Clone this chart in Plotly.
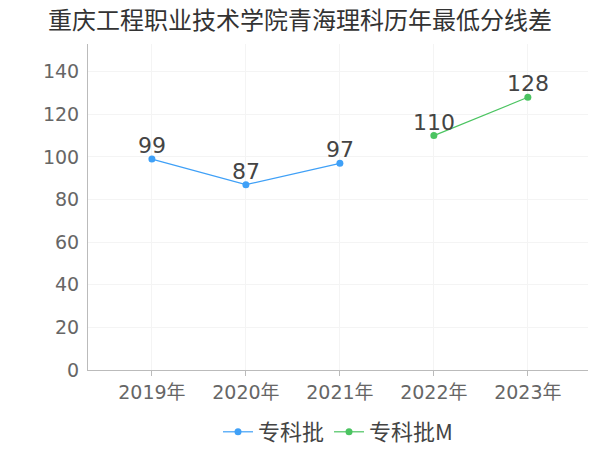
import plotly.graph_objects as go

years = ["2019年", "2020年", "2021年", "2022年", "2023年"]
batch_x = [0, 1, 2]
batch_y = [99, 87, 97]
batch_m_x = [3, 4]
batch_m_y = [110, 128]
y_ticks = [0, 20, 40, 60, 80, 100, 120, 140]

font = "DejaVu Sans, Noto Sans CJK SC"

fig = go.Figure()
fig.add_trace(go.Scatter(
    x=batch_x, y=batch_y, name="专科批", mode="lines+markers",
    line={"color": "#3fa0f7", "width": 1.2}, marker={"size": 7, "color": "#3fa0f7"},
))
fig.add_trace(go.Scatter(
    x=batch_m_x, y=batch_m_y, name="专科批M", mode="lines+markers",
    line={"color": "#4bc461", "width": 1.2}, marker={"size": 7, "color": "#4bc461"},
))

# value labels sit just above each point
for xs, ys in [(batch_x, batch_y), (batch_m_x, batch_m_y)]:
    for x, y in zip(xs, ys):
        fig.add_annotation(x=x, y=y, text=str(y), showarrow=False, yanchor="bottom",
                           yshift=-1, font={"size": 22, "color": "#444"})

fig.update_layout(
    width=600, height=450,
    margin={"l": 88, "r": 12, "t": 44, "b": 80, "autoexpand": False},
    paper_bgcolor="white", plot_bgcolor="white",
    font={"family": font, "color": "#666"},
    title={"text": "重庆工程职业技术学院青海理科历年最低分线差", "x": 0.08, "xanchor": "left",
           "y": 0.955, "yanchor": "middle", "font": {"size": 24, "color": "#333",
                                                     "family": "Noto Sans CJK SC"}},
    legend={"orientation": "h", "x": 0.5, "xanchor": "center", "y": 0.04, "yanchor": "middle",
            "yref": "container", "font": {"size": 22, "color": "#444", "family": "Noto Sans CJK SC"},
            "itemwidth": 30, "tracegroupgap": 0},
    showlegend=True,
)
fig.update_xaxes(
    range=[-0.68, 4.64], tickvals=list(range(len(years))), ticktext=years,
    tickfont={"size": 19, "color": "#666"}, showgrid=True, gridcolor="#f4f4f4",
    showline=True, linecolor="#bbb", ticks="outside", tickcolor="#bbb", ticklen=5,
    zeroline=False, automargin=False,
)
fig.update_yaxes(
    range=[0, 153], tickvals=y_ticks, tickfont={"size": 19, "color": "#666"},
    showgrid=True, gridcolor="#f4f4f4", showline=True, linecolor="#bbb",
    zeroline=False, ticks="", ticklabelstandoff=4, automargin=False,
)

# the page body has a default margin; drop it so the figure fills the window
fig.write_html("out.html", config={"displayModeBar": False},
               post_script="document.body.style.margin='0';")
